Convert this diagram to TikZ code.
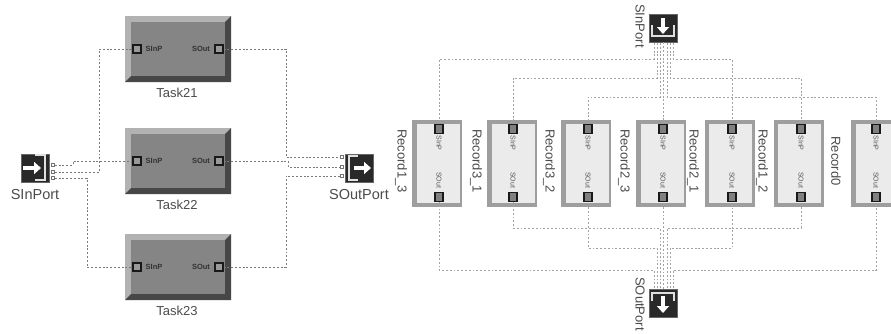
\documentclass[tikz,border=0pt]{standalone}
\usepackage{fontspec}
\setmainfont{Liberation Sans}
\usetikzlibrary{arrows.meta}
\definecolor{iconbg}{gray}{0.16}
\tikzset{
  lbl/.style={font=\fontsize{13}{13}\selectfont,text=black!70,inner sep=0pt},
  lblbig/.style={font=\fontsize{14.5}{15}\selectfont,text=black!70,inner sep=0pt},
  portlbl/.style={font=\bfseries\fontsize{7.5}{8}\selectfont,text=black!80,inner sep=0pt},
  reclbl/.style={font=\fontsize{7}{7}\selectfont,text=black!65,inner sep=0pt,rotate=-90},
  portbox/.style={fill=iconbg,draw=black!60,line width=0.8pt,minimum size=28pt,inner sep=0pt},
  taskpin/.style={draw=black!90,fill=black!40,line width=1.2pt,minimum width=8pt,minimum height=8pt,inner sep=0pt},
  recpin/.style={draw=black!90,fill=black!50,line width=1.6pt,minimum width=8pt,minimum height=9pt,inner sep=0pt},
  pin/.style={draw=black!55,fill=white,line width=0.6pt,minimum size=3pt,inner sep=0pt},
  wire/.style={draw=black!52,line width=1pt,dash pattern=on 1.9pt off 1.9pt},
  wirelt/.style={draw=black!36,line width=1pt,dash pattern=on 1.9pt off 1.9pt},
  glyph/.style={white,line width=4pt,-{Triangle[width=12pt,length=7pt]}},
  brk/.style={draw=black!12,line width=1.5pt}
}
\begin{document}
\begin{tikzpicture}[x=1pt,y=-1pt]
\clip (0,0) rectangle (891,333);
\fill[white] (0,0) rectangle (891,333);
% left block
\foreach \n/\y in {21/49,22/161,23/267} {
  \fill[black!30] (125,\y-33) rectangle (231,\y+33);
  \fill[black!72] (231,\y-33) -- (231,\y+33) -- (125,\y+33) -- (131,\y+27) -- (225,\y+27) -- (225,\y-27) -- cycle;
  \node[fill=black!48,minimum width=94pt,minimum height=54pt,inner sep=0pt] (Task\n) at (178,\y) {};
  \node[taskpin] (t\n in) at (137,\y) {};
  \node[taskpin] (t\n out) at (219,\y) {};
  \node[portlbl] (t\n inlbl) at (154,\y) {SInP};
  \node[portlbl] (t\n outlbl) at (201,\y) {SOut};
  \node[lbl] (Task\n lbl) at (177,\y+44) {Task\n};
}
\node[portbox] (SIn) at (35.5,168) {};
\draw[brk] (35,155) -- (45,155) -- (45,180) -- (35,180);
\draw[glyph] (23,168) -- (41,168);
\node[lblbig] (SInlbl) at (35,195) {SInPort};
\node[portbox] (SOut) at (359,168) {};
\draw[brk] (358,156) -- (349,156) -- (349,180) -- (358,180);
\draw[glyph] (354,168) -- (371,168);
\node[lblbig] (SOutlbl) at (359,195) {SOutPort};
\foreach \i/\y in {1/165,2/172,3/178} {
  \node[pin] (sin\i) at (53,\y) {};
}
\foreach \i/\y in {1/157,2/167,3/176} {
  \node[pin] (sout\i) at (342,\y) {};
}
\coordinate (j1) at (73,165);
\coordinate (j2) at (99,100);
\coordinate (j3) at (87,220);
\coordinate (j4) at (286,100);
\coordinate (j5) at (288,165);
\coordinate (j6) at (286,220);
\draw[wire] (sin1) -| (j1) |- (t22in);
\draw[wire] (sin2) -| (j2) |- (t21in);
\draw[wire] (sin3) -| (j3) |- (t23in);
\draw[wire] (t21out) -| (j4) |- (sout1);
\draw[wire] (t22out) -| (j5) |- (sout2);
\draw[wire] (t23out) -| (j6) |- (sout3);
% right block
\foreach \i/\x/\lx/\lab in {1/437/401/Record1\_3,2/512/476/Record3\_1,3/586/549/Record3\_2,4/661/624/Record2\_3,5/729.5/693/Record2\_1,6/798.5/762/Record1\_2,7/876/836/Record0} {
  \fill[black!38] (\x-25,120) rectangle (\x+25,207);
  \node[fill=black!8,minimum width=43pt,minimum height=79pt,inner sep=0pt] (rec\i) at (\x+1,163.5) {};
  \node[lbl,rotate=-90] (rec\i lbl) at (\lx,161) {\lab};
}
\foreach \i/\x in {1/439,2/513,3/588,4/663,5/732,6/801,7/876} {
  \node[recpin] (rec\i in) at (\x,129) {};
  \node[recpin] (rec\i out) at (\x,197) {};
  \node[reclbl] (rec\i inlbl) at (\x,143) {SInP};
  \node[reclbl] (rec\i outlbl) at (\x,180) {SOut};
}
\node[portbox] (STop) at (663,28) {};
\draw[brk] (652,25) -- (652,36) -- (674,36) -- (674,25);
\draw[glyph] (663,18) -- (663,34);
\node[lbl,rotate=-90] (STopLbl) at (640,26) {SInPort};
\node[portbox] (SBot) at (663,303) {};
\draw[brk] (652,301) -- (652,293) -- (674,293) -- (674,301);
\draw[glyph] (663,296) -- (663,313);
\node[lbl,rotate=-90] (SBotLbl) at (640,304) {SOutPort};
\foreach \i/\x/\y/\r in {1/654/59/1,2/673/59/5,3/657/78/2,4/670/78/6,5/660/97/3,6/667/97/7} {
  \coordinate (st\i) at (\x,43);
  \coordinate (bt\i) at (\x,\y);
  \draw[wirelt] (st\i) -- (bt\i) -| (rec\r in);
}
\draw[wirelt] (STop) -- (rec4in);
\foreach \i/\x/\y/\r in {1/654/270/1,2/673/270/7,3/657/248/3,4/670/248/5,5/660/228/2,6/667/228/6} {
  \coordinate (sb\i) at (\x,288);
  \coordinate (bb\i) at (\x,\y);
  \draw[wirelt] (sb\i) -- (bb\i) -| (rec\r out);
}
\draw[wirelt] (SBot) -- (rec4out);
\end{tikzpicture}
\end{document}
